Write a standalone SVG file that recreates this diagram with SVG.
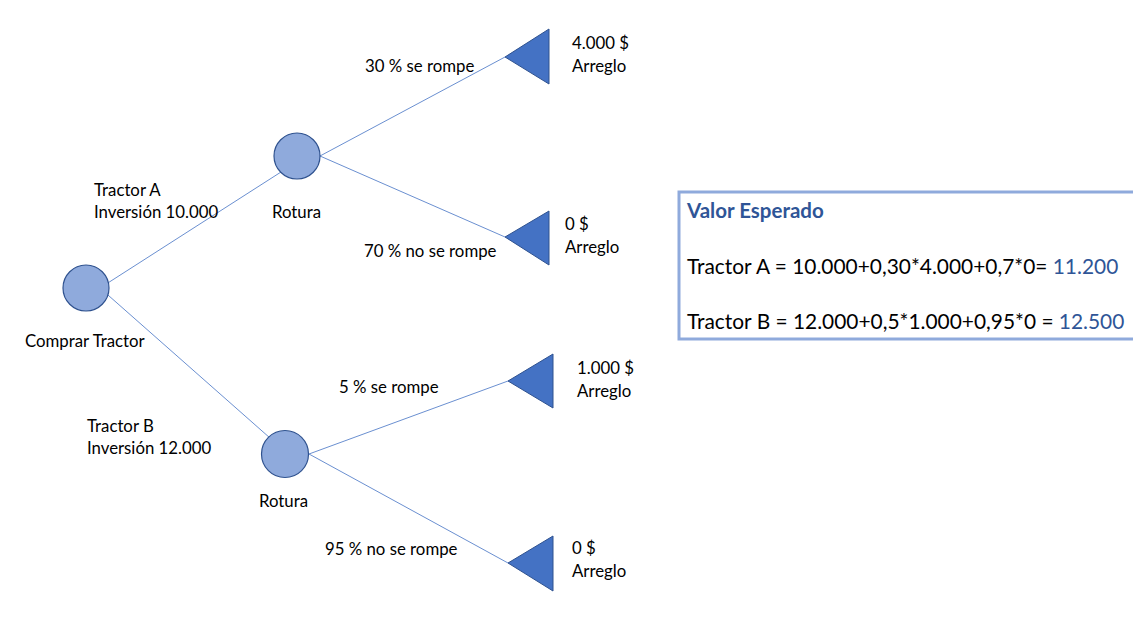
<svg xmlns="http://www.w3.org/2000/svg" width="1133" height="631" viewBox="0 0 1133 631">
<style>
text{font-family:Lato,"Liberation Sans",sans-serif;font-size:16.8px;fill:#000}
.chance{fill:#8faadc;stroke:#2f528f;stroke-width:1.2}
.end{fill:#4472c4;stroke:#2f528f;stroke-width:1}
.con line{stroke:#4472c4;stroke-width:0.8}
.box{fill:#fff;stroke:#8faadc;stroke-width:3}
.big{font-size:20.9px}
.hd{font-size:20.5px;font-weight:bold;fill:#2f5597}
.res{fill:#2f5597}
</style>
<rect width="1133" height="631" fill="#fff"/>
<g id="connectors" class="con">
<line x1="100" y1="288" x2="281" y2="172"/>
<line x1="100" y1="288" x2="270" y2="438"/>
<line x1="320" y1="156" x2="505" y2="57"/>
<line x1="320" y1="156" x2="505" y2="237"/>
<line x1="309" y1="454" x2="508" y2="381"/>
<line x1="309" y1="454" x2="508" y2="563"/>
</g>
<g id="root"><circle class="chance" cx="86" cy="288" r="23"/><text x="25" y="347">Comprar Tractor</text></g>
<g id="rotura-a"><circle class="chance" cx="297" cy="156" r="23"/><text x="272" y="218">Rotura</text></g>
<g id="rotura-b"><circle class="chance" cx="285" cy="454" r="23.5"/><text x="259" y="507">Rotura</text></g>
<g id="end-a1"><polygon class="end" points="505,57 549,29 549,84"/><text x="572" y="49">4.000 $</text><text x="572" y="72">Arreglo</text></g>
<g id="end-a2"><polygon class="end" points="505,237 549,211 549,265"/><text x="565" y="230">0 $</text><text x="565" y="253">Arreglo</text></g>
<g id="end-b1"><polygon class="end" points="508,381 553,354 553,408"/><text x="577" y="374">1.000 $</text><text x="577" y="397">Arreglo</text></g>
<g id="end-b2"><polygon class="end" points="508,563 553,536 553,591"/><text x="572" y="554">0 $</text><text x="572" y="577">Arreglo</text></g>
<g id="labels">
<text x="94" y="196">Tractor A</text>
<text x="94" y="218">Inversión 10.000</text>
<text x="87" y="432">Tractor B</text>
<text x="87" y="454">Inversión 12.000</text>
<text x="365" y="72">30 % se rompe</text>
<text x="364" y="257">70 % no se rompe</text>
<text x="339" y="393">5 % se rompe</text>
<text x="325" y="555">95 % no se rompe</text>
</g>
<g id="valor-esperado">
<rect class="box" x="679" y="192" width="460" height="147"/>
<text class="hd" x="687" y="218">Valor Esperado</text>
<text class="big" x="687" y="274">Tractor A = 10.000+0,30*4.000+0,7*0= <tspan class="res">11.200</tspan></text>
<text class="big" x="687" y="329">Tractor B = 12.000+0,5*1.000+0,95*0 = <tspan class="res">12.500</tspan></text>
</g>
</svg>
